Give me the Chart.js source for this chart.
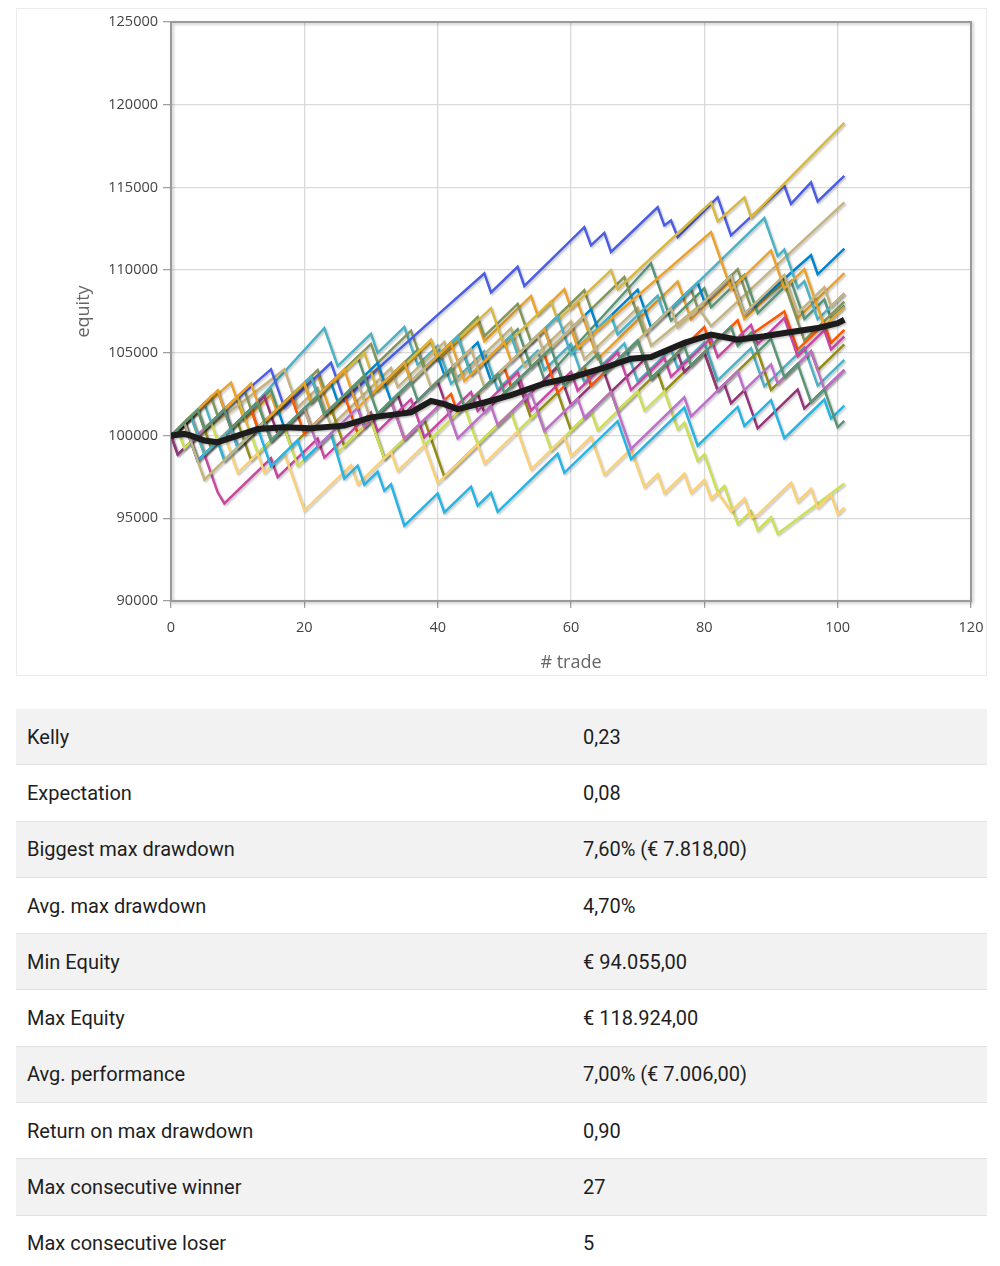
<!DOCTYPE html>
<html>
<head>
<meta charset="utf-8">
<script src="https://cdn.jsdelivr.net/npm/chart.js@4.4.1/dist/chart.umd.min.js"></script>
<style>
    body{margin:0;background:#fff;}
    #box{position:absolute;left:16px;top:8px;width:969px;height:666px;border:1px solid #ebebeb;}
    #chartWrap{position:absolute;left:0;top:0;width:1000px;height:690px;}
    #stats{position:absolute;left:16px;top:709px;width:971px;font-family:Roboto,"Open Sans",sans-serif;}
    .row{height:56.3px;box-sizing:border-box;border-bottom:1px solid #e2e2e2;display:flex;align-items:center;font-size:20px;color:#1e1e1e;}
    .row:nth-child(odd){background:#f2f2f2;}
    .row span:first-child{width:567px;box-sizing:border-box;padding-left:11px;}
</style>
</head>
<body>
<div id="box"></div>
<div id="chartWrap"><canvas id="equityChart" width="1000" height="690"></canvas></div>
<div id="stats"></div>
<script>
// simulated equity runs, [trade, equity] at each turning point
const runTeal = [[0,100000],[5,101950],[6,100800],[10,102360],[11,101210],[23,106500],[25,104200],[30,106150],[31,105000],[35,106560],[37,104260],[40,105430],[42,103130],[47,105080],[49,102780],[55,105120],[56,103970],[60,105530],[62,103230],[68,105570],[70,103270],[75,105220],[76,104070],[80,105630],[82,103330],[87,105280],[89,102980],[95,105320],[97,103020],[101,104580]];
const runOrange = [[0,100000],[9,103200],[11,100900],[15,102460],[16,101310],[22,103650],[24,101350],[31,104080],[32,102930],[39,105660],[40,104510],[46,106850],[47,105700],[54,108430],[55,107280],[59,108840],[60,107690],[61,108080],[64,104630],[76,109310],[78,107010],[84,109350],[86,107050],[92,109390],[94,107090],[101,109820]];
const runTan = [[0,100000],[2,100780],[3,99630],[17,104000],[19,101700],[22,102870],[24,100570],[33,104080],[34,102930],[41,105660],[43,103360],[51,106480],[53,104180],[60,106910],[62,104610],[70,107730],[72,105430],[79,107770],[81,106620],[101,114100]];
const runGreen = [[0,100000],[1,98850],[8,101580],[9,100430],[15,102770],[16,101620],[21,103570],[22,102420],[28,104760],[30,102460],[37,105190],[38,104040],[43,105990],[45,103690],[52,106420],[54,104120],[55,104510],[56,103360],[72,110400],[75,106950],[80,108900],[81,107750],[86,109700],[88,107400],[93,109350],[95,107050],[98,108220],[99,107070],[101,107850]];
const runOlive = [[0,100000],[6,102340],[7,101190],[11,102750],[13,100450],[22,103960],[23,102810],[30,105540],[31,104390],[36,106340],[38,104040],[46,107160],[47,106010],[52,107960],[54,105660],[62,108780],[63,107630],[68,109580],[71,106130],[78,108860],[79,107710],[85,110050],[87,107750],[92,109200],[95,105750],[101,108090]];
const runDarkOlive = [[0,100000],[4,101560],[6,99260],[10,100820],[12,98520],[17,100470],[18,99320],[24,101660],[26,99360],[30,100920],[32,98620],[38,100960],[41,97510],[53,102190],[54,101040],[58,102600],[60,100300],[66,102640],[67,101490],[73,103830],[74,102680],[80,105020],[82,102720],[88,105060],[90,102760],[96,105100],[97,103950],[101,105510]];
const runPlum = [[0,100000],[1,98850],[8,101580],[9,100430],[14,102380],[16,100080],[20,101640],[21,100490],[27,102830],[29,100530],[34,102480],[35,101330],[40,103280],[42,100980],[46,102540],[47,101390],[52,103340],[53,102190],[58,104140],[60,101840],[65,103790],[66,102640],[71,104590],[72,103440],[76,105000],[77,103850],[80,105020],[82,102720],[83,103110],[84,101960],[86,102740],[88,100440],[94,102780],[95,101630],[101,103970]];
const runBlue = [[0,100000],[7,102700],[8,101550],[15,104000],[17,101700],[24,104400],[26,102100],[32,104400],[40,107300],[47,109800],[48,108650],[52,110200],[53,109050],[62,112600],[63,111500],[65,112250],[66,111100],[73,113800],[74,112700],[75,113000],[76,112000],[82,114400],[84,112100],[92,115100],[93,114000],[96,115300],[97,114150],[101,115700]];
const runGold = [[0,100000],[4,101550],[5,100400],[10,102300],[12,100000],[20,103100],[21,101950],[29,105000],[31,102700],[39,105800],[40,104650],[48,107700],[50,105400],[57,108100],[58,106950],[66,110000],[67,108850],[81,114100],[82,112950],[86,114400],[87,113200],[101,118900]];
const runRed = [[0,100000],[3,101170],[5,98870],[12,101600],[13,100450],[18,102400],[20,100100],[26,102440],[28,100140],[33,102090],[35,99790],[42,102520],[43,101370],[50,104100],[51,102950],[56,104900],[58,102600],[62,104160],[63,103010],[70,105740],[72,103440],[80,106560],[81,105410],[85,106970],[86,105820],[92,107500],[94,105200],[98,106760],[99,105610],[101,106390]];
const runOcean = [[0,100000],[2,100780],[4,98480],[9,100430],[10,99280],[16,101620],[17,100470],[24,103200],[25,102050],[31,104390],[33,102090],[40,104820],[41,103670],[46,105620],[48,103320],[56,106440],[57,105290],[63,107630],[64,106480],[70,108820],[72,106520],[79,109250],[80,108100],[84,109660],[86,107360],[96,110900],[97,109750],[101,111300]];
const runMagenta = [[0,100000],[2,100780],[4,98480],[5,98870],[7,96570],[8,95900],[15,98630],[16,97480],[22,99820],[23,98670],[30,101400],[31,100250],[36,102200],[38,99900],[45,102630],[46,101480],[52,103820],[54,101520],[60,103860],[61,102710],[67,105050],[69,102750],[74,104700],[75,103550],[81,105890],[82,104740],[87,106690],[88,105540],[92,107100],[94,104800],[98,106360],[99,105210],[101,105990]];
const runLime = [[0,100000],[1,100390],[2,99240],[6,100800],[8,98500],[12,100060],[13,98910],[17,100470],[19,98170],[24,100120],[25,98970],[30,100920],[32,98620],[37,100570],[38,99420],[44,101760],[46,99460],[51,101410],[52,100260],[55,101430],[57,99130],[63,101470],[64,100320],[70,102660],[71,101510],[74,102680],[76,100380],[77,100770],[79,98470],[80,98860],[82,96560],[83,96950],[85,94650],[87,95430],[88,94280],[90,95060],[91,94060],[101,97100]];
const runSand = [[0,100000],[3,101170],[5,98870],[8,100040],[10,97740],[13,98910],[14,97760],[17,98930],[20,95480],[27,98210],[28,97060],[33,99010],[34,97860],[38,99420],[40,97120],[46,99460],[47,98310],[52,100260],[54,97960],[59,99910],[60,98760],[63,99930],[65,97630],[69,99190],[71,96890],[73,97670],[74,96520],[77,97690],[78,96540],[80,97320],[81,96170],[82,96560],[84,95410],[86,96190],[87,95040],[88,95200],[93,97150],[94,96000],[96,96780],[97,95630],[99,96410],[100,95260],[101,95650]];
const runSky = [[0,100000],[2,100780],[4,98480],[7,99650],[8,98500],[13,100450],[15,98150],[19,99710],[20,98560],[24,100120],[26,97400],[28,98180],[29,97030],[31,97810],[32,96660],[33,97050],[35,94550],[40,96500],[41,95350],[45,96910],[46,95760],[48,96540],[49,95390],[58,98900],[59,97750],[67,100870],[69,98570],[77,101690],[79,99390],[85,101730],[86,100580],[90,102140],[92,99840],[98,102180],[99,101030],[101,101810]];
const runPurple = [[0,100000],[2,100780],[3,99630],[8,101580],[10,99280],[14,100840],[15,99690],[20,101640],[22,99340],[28,101680],[29,100530],[33,102090],[35,99790],[41,102130],[43,99830],[48,101780],[49,100630],[54,102580],[56,100280],[61,102230],[62,101080],[66,102640],[69,99190],[77,102310],[78,101160],[85,103890],[86,102740],[90,104300],[91,103150],[96,105100],[98,102800],[101,103970]];
const runTeal2 = [[0,100000],[3,101170],[5,98870],[9,100430],[10,99280],[21,103570],[23,101270],[29,103610],[30,102460],[35,104410],[36,103260],[43,105990],[45,103690],[51,106030],[52,104880],[58,107220],[60,104920],[66,107260],[67,106110],[73,108450],[74,107300],[89,113150],[91,110850],[92,111240],[94,108940],[95,109330],[97,107030],[101,108590]];
const runOrange2 = [[0,100000],[7,102730],[8,101580],[12,103140],[14,100840],[20,103180],[21,102030],[26,103980],[28,101680],[35,104410],[36,103260],[42,105600],[44,103300],[50,105640],[51,104490],[56,106440],[57,105290],[60,106460],[61,105310],[81,112300],[84,108850],[90,111190],[92,108890],[95,110060],[98,106610],[101,107780]];
const runTan2 = [[0,100000],[2,100780],[5,97330],[14,100840],[15,99690],[20,101640],[21,100490],[28,103220],[30,100920],[38,104040],[39,102890],[45,105230],[47,102930],[55,106050],[56,104900],[62,107240],[65,103790],[75,107690],[76,106540],[84,109660],[86,107360],[92,109700],[94,107400],[98,108960],[99,107810],[101,108590]];
const runGreen2 = [[0,100000],[4,101560],[5,100410],[8,101580],[9,100430],[13,101990],[15,99690],[22,102420],[23,101270],[29,103610],[31,101310],[36,103260],[37,102110],[42,104060],[44,101760],[49,103710],[50,102560],[57,105290],[59,102990],[64,104940],[65,103790],[70,105740],[72,103440],[77,105390],[78,104240],[84,106580],[85,105430],[87,106210],[88,105060],[90,105840],[92,103540],[94,104320],[96,102020],[98,102800],[100,100500],[101,100890]];

// average of all runs
const avgEquity = [[0,100000],[2,100100],[3,100000],[5,99700],[7,99600],[10,100000],[13,100400],[17,100500],[21,100450],[26,100600],[30,101100],[33,101250],[36,101400],[39,102100],[41,101900],[43,101600],[45,101800],[47,102000],[51,102450],[56,103150],[60,103500],[65,104100],[69,104650],[72,104750],[77,105600],[81,106100],[85,105800],[89,106000],[92,106200],[97,106500],[100,106800],[101,107000]];

const runs = [runTeal, runOrange, runTan, runGreen, runOlive, runDarkOlive, runPlum, runBlue, runGold, runRed,
              runOcean, runMagenta, runLime, runSand, runSky, runPurple, runTeal2, runOrange2, runTan2, runGreen2];
const runColors = ['#4bb2c5','#EAA228','#c5b47f','#579575','#839557','#958c12','#953579','#4b5de4','#d8b83f','#ff5800',
                   '#0085cc','#c747a3','#cddf54','#FBD178','#26B4E3','#bd70c7','#4bb2c5','#EAA228','#c5b47f','#579575'];

const xTicks = [0, 20, 40, 60, 80, 100, 120];
const yTicks = [90000, 95000, 100000, 105000, 110000, 115000, 120000, 125000];

const statLabels = ['Kelly','Expectation','Biggest max drawdown','Avg. max drawdown','Min Equity','Max Equity','Avg. performance','Return on max drawdown','Max consecutive winner','Max consecutive loser'];
const statValues = ['0,23','0,08','7,60% (€ 7.818,00)','4,70%','€ 94.055,00','€ 118.924,00','7,00% (€ 7.006,00)','0,90','27','5'];

// table under the chart
const stats = document.getElementById('stats');
statLabels.forEach((lab, i) => {
    const row = document.createElement('div');
    row.className = 'row';
    row.innerHTML = '<span>' + lab + '</span><span>' + statValues[i] + '</span>';
    stats.appendChild(row);
});

const toPts = arr => arr.map(p => ({x: p[0], y: p[1]}));

let datasets = runs.map((r, i) => ({
    data: toPts(r),
    borderColor: runColors[i],
    borderWidth: 2.5,
    order: runs.length - i + 1
}));
datasets.push({
    data: toPts(avgEquity),
    borderColor: '#1c1c1c',
    borderWidth: 6,
    order: 0
});

// jqplot-like soft shadow under every line
const lineShadow = {
    id: 'lineShadow',
    beforeDatasetDraw(chart){
        const c = chart.ctx;
        c.save();
        c.shadowColor = 'rgba(0,0,0,0.22)';
        c.shadowBlur = 2;
        c.shadowOffsetX = 1.5;
        c.shadowOffsetY = 1.5;
    },
    afterDatasetDraw(chart){
        chart.ctx.restore();
    }
};

const plotFrame = {
    id: 'plotFrame',
    beforeDatasetsDraw(chart){
        const {ctx, chartArea: a} = chart;
        ctx.save();
        ctx.shadowColor = 'rgba(0,0,0,0.25)';
        ctx.shadowBlur = 3;
        ctx.shadowOffsetX = 1.5;
        ctx.shadowOffsetY = 1.5;
        ctx.strokeStyle = '#9a9a9a';
        ctx.lineWidth = 2;
        ctx.strokeRect(a.left, a.top, a.right - a.left, a.bottom - a.top);
        ctx.restore();
    }
};

const tickFont = {family: '"Open Sans", sans-serif', size: 14.5};
const titleFont = {family: '"Open Sans", sans-serif', size: 18};

new Chart(document.getElementById('equityChart'), {
    type: 'line',
    data: {datasets: datasets},
    options: {
        responsive: false,
        animation: false,
        layout: {padding: {top: 22, right: 29, left: 0, bottom: 0}},
        elements: {point: {radius: 0}, line: {tension: 0}},
        plugins: {
            legend: {display: false},
            tooltip: {enabled: false}
        },
        scales: {
            x: {
                type: 'linear',
                min: 0,
                max: 120,
                afterBuildTicks: s => { s.ticks = xTicks.map(v => ({value: v})); },
                afterFit: s => { s.height = 89; },
                ticks: {color: '#444', font: tickFont, padding: 11, maxRotation: 0},
                grid: {color: '#dadada', lineWidth: 1.3, tickLength: 7, tickColor: '#a0a0a0'},
                border: {display: false},
                title: {display: true, text: '# trade', color: '#666', font: titleFont, padding: {bottom: 16}}
            },
            y: {
                min: 90000,
                max: 125000,
                afterBuildTicks: s => { s.ticks = yTicks.map(v => ({value: v})); },
                afterFit: s => { s.width = 171; },
                ticks: {color: '#444', font: tickFont, padding: 5, callback: v => String(v)},
                grid: {color: '#dadada', lineWidth: 1.3, tickLength: 8, tickColor: '#a0a0a0'},
                border: {display: false},
                title: {display: true, text: 'equity', color: '#666', font: titleFont, padding: {top: 73}}
            }
        }
    },
    plugins: [lineShadow, plotFrame]
});
</script>
</body>
</html>
